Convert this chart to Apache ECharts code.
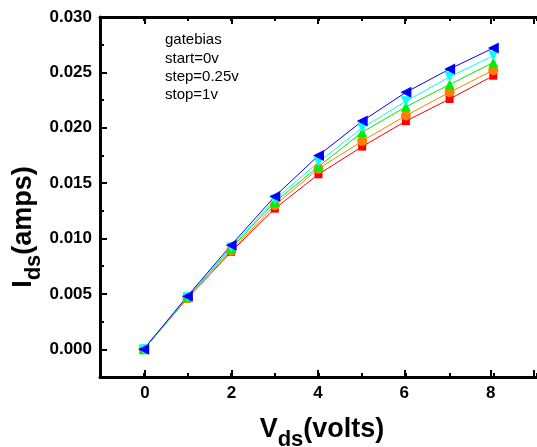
<!DOCTYPE html>
<html>
<head>
<meta charset="utf-8">
<script src="https://cdn.jsdelivr.net/npm/echarts@6/dist/echarts.min.js"></script>
<style>
  html, body { margin: 0; padding: 0; background: #fff; }
  #chart { width: 537px; height: 447px; }
</style>
</head>
<body>
<div id="chart"></div>
<script>
// drain voltage (V) and drain current (A) per gate bias
var vds = [0, 1, 2, 3, 4, 5, 6, 7, 8];
var gate0 = [0, 0.0046, 0.0088, 0.0127, 0.0158, 0.0183, 0.0206, 0.0226, 0.0247];
var gate025 = [0, 0.0046, 0.0089, 0.0130, 0.0163, 0.0188, 0.0211, 0.0232, 0.0252];
var gate05 = [0, 0.0047, 0.0091, 0.0133, 0.0165, 0.0196, 0.0219, 0.0239, 0.0259];
var gate075 = [0, 0.0047, 0.0092, 0.0135, 0.0169, 0.0200, 0.0224, 0.0246, 0.0265];
var gate1 = [0, 0.0048, 0.0094, 0.0138, 0.0175, 0.0206, 0.0232, 0.0253, 0.0272];
var legendLines = ["gatebias", "start=0v", "step=0.25v", "stop=1v"];

var chart = echarts.init(document.getElementById("chart"));
var FONT = "Arial, 'Liberation Sans', sans-serif";

function pairs(vals) {
  return vals.map(function (v, i) { return [vds[i], v]; });
}

function mkSeries(name, vals, color, symbol, size, rot) {
  return {
    name: name,
    type: "line",
    xAxisIndex: 0,
    yAxisIndex: 0,
    data: pairs(vals),
    symbol: symbol,
    symbolSize: size,
    symbolRotate: rot || 0,
    showAllSymbol: true,
    lineStyle: { color: color, width: 1 },
    itemStyle: { color: color, borderWidth: 0 },
    animation: false
  };
}

var minorTick = { show: true, inside: true, length: 4, lineStyle: { color: "#000", width: 2 } };
var majorTick = { show: true, inside: true, length: 7, lineStyle: { color: "#000", width: 2 } };
var frameLine = { show: true, onZero: false, lineStyle: { color: "#000", width: 3 } };
var noLine = { show: false, onZero: false };

var option = {
  backgroundColor: "#fff",
  animation: false,
  grid: [
    { left: 100, top: 17, width: 446, height: 360 },
    { left: 145, top: 17, width: 401, height: 332.3 }
  ],
  xAxis: [
    {
      gridIndex: 0, type: "value", position: "bottom",
      min: -1, max: 9, interval: 1,
      axisLine: frameLine,
      axisTick: minorTick, axisLabel: { show: false }, splitLine: { show: false }
    },
    {
      gridIndex: 0, type: "value", position: "top",
      min: -1, max: 9, interval: 1,
      axisLine: frameLine,
      axisTick: minorTick, axisLabel: { show: false }, splitLine: { show: false }
    },
    {
      gridIndex: 1, type: "value", position: "bottom", offset: 27.7,
      min: 0, max: 9, interval: 2,
      axisLine: noLine, axisTick: majorTick, splitLine: { show: false },
      axisLabel: {
        color: "#000", fontWeight: "bold", fontSize: 17, fontFamily: FONT, margin: 8,
        formatter: function (v) { return v <= 8 ? String(v) : ""; }
      }
    },
    {
      gridIndex: 1, type: "value", position: "top",
      min: 0, max: 9, interval: 2,
      axisLine: noLine, axisTick: majorTick, axisLabel: { show: false }, splitLine: { show: false }
    }
  ],
  yAxis: [
    {
      gridIndex: 0, type: "value", position: "left",
      min: -0.0025, max: 0.03, interval: 0.0025,
      axisLine: frameLine,
      axisTick: minorTick, axisLabel: { show: false }, splitLine: { show: false }
    },
    {
      gridIndex: 1, type: "value", position: "left", offset: 45,
      min: 0, max: 0.03, interval: 0.005,
      axisLine: noLine, axisTick: majorTick, splitLine: { show: false },
      axisLabel: {
        color: "#000", fontWeight: "bold", fontSize: 17, fontFamily: FONT, margin: 8,
        formatter: function (v) { return v.toFixed(3); }
      }
    }
  ],
  series: [
    mkSeries("0v", gate0, "#ff0000", "rect", 8),
    mkSeries("0.25v", gate025, "#ff8000", "circle", 10),
    mkSeries("0.5v", gate05, "#00ee00", "triangle", 10),
    mkSeries("0.75v", gate075, "#00ffff", "triangle", 10, 180),
    mkSeries("1v", gate1, "#0000ff", "triangle", 11, 90)
  ],
  graphic: [
    {
      type: "text", left: 165, top: 31,
      style: {
        text: legendLines.join("\n"), fill: "#000",
        font: "15px " + FONT, lineHeight: 18.3
      }
    },
    {
      type: "text", x: 322, y: 440,
      style: {
        text: "{a|V}{b|ds}{a|(volts)}", align: "center", verticalAlign: "middle",
        rich: {
          a: { fontSize: 27, fontWeight: "bold", fontFamily: FONT, lineHeight: 27, verticalAlign: "top", fill: "#000" },
          b: { fontSize: 22, fontWeight: "bold", fontFamily: FONT, lineHeight: 48, fill: "#000" }
        }
      }
    },
    {
      type: "text", x: 34, y: 227, rotation: Math.PI / 2,
      style: {
        text: "{a|I}{b|ds}{a|(amps)}", align: "center", verticalAlign: "middle",
        rich: {
          a: { fontSize: 27, fontWeight: "bold", fontFamily: FONT, lineHeight: 27, verticalAlign: "top", fill: "#000" },
          b: { fontSize: 22, fontWeight: "bold", fontFamily: FONT, lineHeight: 48, fill: "#000" }
        }
      }
    }
  ]
};

chart.setOption(option);
</script>
</body>
</html>
